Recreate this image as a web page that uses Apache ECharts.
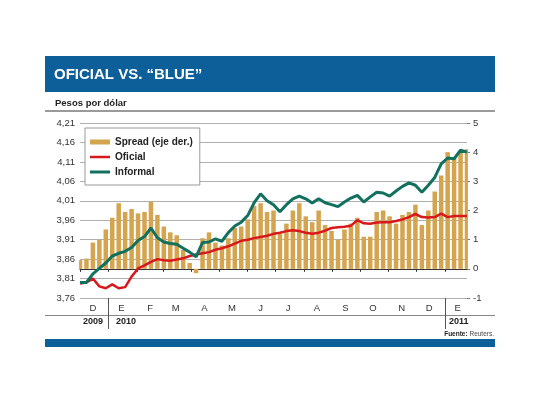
<!DOCTYPE html>
<html>
<head>
<meta charset="utf-8">
<script src="https://cdn.jsdelivr.net/npm/echarts@6/dist/echarts.min.js"></script>
<style>
html,body{margin:0;padding:0;background:#fff}
#chart{width:540px;height:405px}
</style>
</head>
<body>
<div id="chart"></div>
<script>
// eje diario, datos semanales (cada 7 dias desde el 1/12/2009)
const firstDay = '2009-12-01'
const lastDay = '2011-01-25'
const monthLetters = ['E','F','M','A','M','J','J','A','S','O','N','D']
const yearLabels = {'2009-12-15':'2009', '2010-01-20':'2010', '2011-01-16':'2011'}

const informal = [3.800,3.800,3.822,3.836,3.850,3.868,3.875,3.880,3.890,3.908,
  3.918,3.940,3.915,3.904,3.900,3.898,3.888,3.878,3.866,3.903,
  3.904,3.912,3.906,3.928,3.945,3.955,3.972,4.005,4.028,4.010,
  4.000,3.982,4.000,4.015,4.022,4.015,4.004,4.015,4.005,4.000,
  3.995,4.007,4.017,4.024,4.007,4.020,4.032,4.030,4.022,4.035,
  4.047,4.056,4.050,4.032,4.050,4.070,4.105,4.120,4.118,4.140,4.135]

const oficial = [3.797,3.800,3.810,3.790,3.785,3.795,3.785,3.788,3.815,3.836,
  3.844,3.853,3.860,3.857,3.856,3.859,3.862,3.868,3.872,3.875,
  3.878,3.884,3.888,3.893,3.900,3.907,3.910,3.914,3.917,3.920,
  3.925,3.928,3.932,3.934,3.932,3.928,3.925,3.928,3.933,3.940,
  3.942,3.943,3.946,3.960,3.952,3.951,3.954,3.955,3.955,3.958,
  3.962,3.968,3.976,3.968,3.967,3.968,3.977,3.968,3.971,3.971,3.971]

const spread = [0.3,0.35,0.9,1.0,1.35,1.75,2.25,1.95,2.05,1.9,
  1.95,2.3,1.85,1.45,1.25,1.15,0.65,0.2,-0.15,1.05,
  1.25,0.9,0.8,1.05,1.4,1.45,1.7,2.15,2.25,1.95,
  2.0,1.2,1.55,2.0,2.25,1.8,1.6,2.0,1.5,1.3,
  1.0,1.35,1.55,1.75,1.1,1.1,1.95,2.0,1.8,1.55,
  1.85,1.95,2.2,1.5,2.0,2.65,3.2,4.0,3.8,4.05,4.1]

const days = []
for (let t = Date.parse(firstDay); t <= Date.parse(lastDay); t += 864e5) {
  days.push(new Date(t).toISOString().slice(0, 10))
}
const weeks = days.filter((d, i) => i % 7 === 0)

const fontN = "'Liberation Sans',Arial,sans-serif"
const blue = '#0d5f99'

const chart = echarts.init(document.getElementById('chart'))
chart.setOption({
  animation: false,
  textStyle: {fontFamily: fontN},
  title: [
    {text: 'OFICIAL VS. “BLUE”', left: 54, top: 67, padding: 0,
      textStyle: {color: '#fff', fontSize: 15, fontWeight: 'bold', fontFamily: fontN}},
    {text: 'Pesos por dólar', left: 55, top: 98, padding: 0,
      textStyle: {color: '#222', fontSize: 9.5, fontWeight: 'bold', fontFamily: fontN}},
    {text: '{b|Fuente:} Reuters.', right: 46, top: 331, padding: 0,
      textStyle: {color: '#444', fontSize: 6.5, fontWeight: 'normal', fontFamily: fontN,
        rich: {b: {fontWeight: 'bold', fontSize: 6.5, color: '#222', fontFamily: fontN}}}}
  ],
  graphic: [
    {type: 'rect', shape: {x: 45, y: 56, width: 450, height: 36}, style: {fill: blue}, z: -1},
    {type: 'line', shape: {x1: 45, y1: 111, x2: 495, y2: 111}, style: {stroke: '#9a9a9a', lineWidth: 2}},
    {type: 'line', shape: {x1: 45, y1: 315.5, x2: 495, y2: 315.5}, style: {stroke: '#888', lineWidth: 1}},
    {type: 'rect', shape: {x: 45, y: 339, width: 450, height: 8}, style: {fill: blue}, z: -1}
  ],
  legend: {
    orient: 'vertical', left: 85, top: 128, padding: [9, 7, 8, 5], itemGap: 5,
    itemWidth: 20, itemHeight: 10,
    backgroundColor: '#fff', borderColor: '#999', borderWidth: 1,
    textStyle: {fontSize: 10, fontWeight: 'bold', color: '#222', fontFamily: fontN},
    data: [
      {name: 'Spread (eje der.)', icon: 'path://M0,0h20v5h-20z'},
      {name: 'Oficial', icon: 'path://M0,0h20v2.5h-20z'},
      {name: 'Informal', icon: 'path://M0,0h20v3h-20z'}
    ]
  },
  grid: {left: 80, right: 73, top: 123, bottom: 107},
  xAxis: [
    {
      type: 'category', data: days, boundaryGap: false, position: 'bottom',
      axisLine: {lineStyle: {color: '#333', width: 1}},
      axisTick: {interval: (i, v) => v.slice(8) === '01', length: 3, lineStyle: {color: '#333'}},
      axisLabel: {interval: (i, v) => v.slice(8) === '15', formatter: v => monthLetters[+v.slice(5, 7) - 1],
        margin: 5, fontSize: 9.5, color: '#333'},
      splitLine: {show: false}
    },
    {
      type: 'category', data: days, boundaryGap: false, position: 'bottom',
      axisLine: {show: false},
      axisTick: {interval: (i, v) => v.slice(5) === '01-01', length: 31, lineStyle: {color: '#555'}},
      axisLabel: {interval: (i, v) => v in yearLabels, formatter: v => yearLabels[v] || '',
        margin: 19, fontSize: 9, fontWeight: 'bold', color: '#222'},
      splitLine: {show: false}
    }
  ],
  yAxis: [
    {
      type: 'value', min: 3.76, max: 4.21, interval: 0.05, position: 'left',
      axisLine: {show: false}, axisTick: {show: false},
      axisLabel: {formatter: v => v.toFixed(2).replace('.', ','), margin: 5, fontSize: 9.5, color: '#333',
        padding: [0, 0, 5, 0]},
      splitLine: {lineStyle: {color: '#b0b0b0', width: 1}}
    },
    {
      type: 'value', min: -1, max: 5, interval: 1, position: 'right',
      axisLine: {show: false},
      axisTick: {show: true, length: 3, lineStyle: {color: '#777'}},
      axisLabel: {margin: 6, fontSize: 9.5, color: '#333', padding: [0, 0, 5, 0]},
      splitLine: {show: false}
    }
  ],
  series: [
    {
      name: 'Spread (eje der.)', type: 'bar', xAxisIndex: 0, yAxisIndex: 1, barWidth: 4.5,
      itemStyle: {color: '#d4a44e'},
      data: weeks.map((d, i) => [d, spread[i]])
    },
    {
      name: 'Oficial', type: 'line', xAxisIndex: 0, yAxisIndex: 0, symbol: 'none',
      lineStyle: {color: '#d7191c', width: 2.5}, itemStyle: {color: '#d7191c'},
      data: weeks.map((d, i) => [d, oficial[i]])
    },
    {
      name: 'Informal', type: 'line', xAxisIndex: 0, yAxisIndex: 0, symbol: 'none',
      lineStyle: {color: '#12705f', width: 3}, itemStyle: {color: '#12705f'},
      data: weeks.map((d, i) => [d, informal[i]])
    }
  ]
})
</script>
</body>
</html>
